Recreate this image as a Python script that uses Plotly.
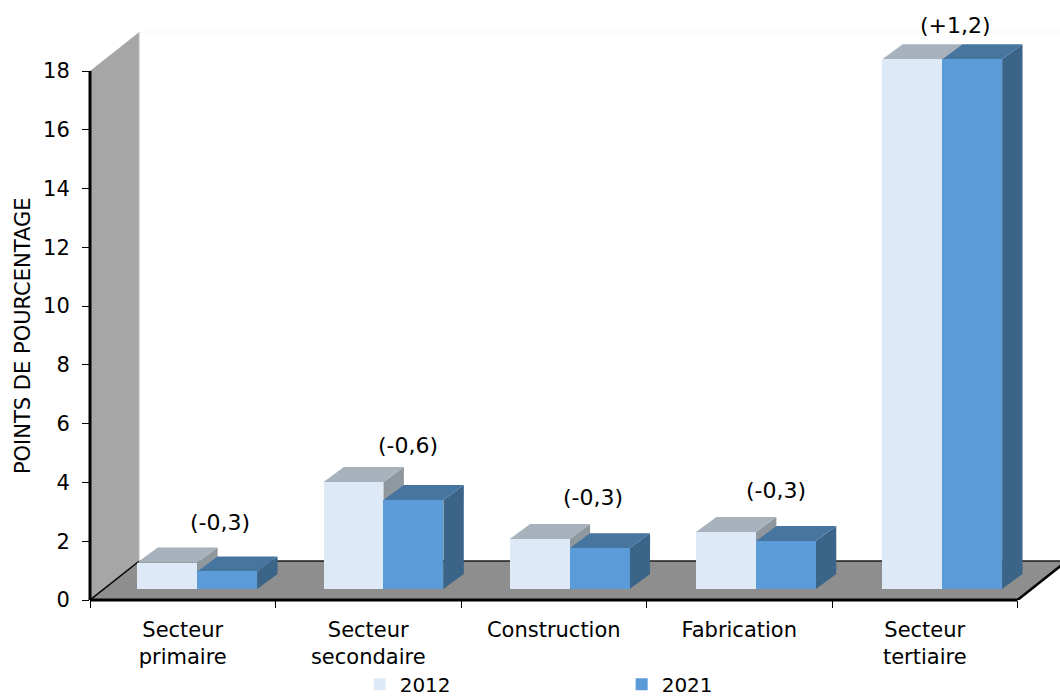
import plotly.graph_objects as go

categories = ["Secteur<br>primaire", "Secteur<br>secondaire", "Construction", "Fabrication", "Secteur<br>tertiaire"]
series_2012 = [0.90, 3.64, 1.70, 1.94, 18.03]
series_2021 = [0.60, 3.03, 1.39, 1.63, 18.03]
change_labels = ["(-0,3)", "(-0,6)", "(-0,3)", "(-0,3)", "(+1,2)"]
change_label_x = [0.701, 1.714, 2.712, 3.698, 4.668]
change_label_y = [2.65, 5.27, 3.50, 3.74, 19.56]
y_ticks = [0, 2, 4, 6, 8, 10, 12, 14, 16, 18]

FONT = "DejaVu Sans"
BAR_W = 0.323
BAR_DX, BAR_DY = 0.110, 0.51
WALL_DX, WALL_DY = 0.266, 1.327
BASE = 0.374
Y_MAX = 18
N = len(categories)
X_RANGE = [0, 5.229]
Y_RANGE = [0, 20.416]

centers = [0.578 + 1.004 * i for i in range(N)]
left_x = [c - BAR_W for c in centers]
right_x = [c + BAR_W for c in centers]


def poly(points, color):
    path = "M " + " L ".join(f"{x},{y}" for x, y in points) + " Z"
    return dict(type="path", path=path, xref="x", yref="y", fillcolor=color,
                line=dict(width=0), layer="below")


def seg(x0, y0, x1, y1, width, color="#000000"):
    return dict(type="line", x0=x0, y0=y0, x1=x1, y1=y1, xref="x", yref="y",
                line=dict(color=color, width=width), layer="below")


shapes = [
    seg(WALL_DX, Y_MAX + WALL_DY, X_RANGE[1], Y_MAX + WALL_DY, 1, "#F7F7F7"),
    poly([(0, 0), (WALL_DX, WALL_DY), (N + WALL_DX, WALL_DY), (N, 0)], "#8E8E8E"),
    poly([(0, 0), (WALL_DX, WALL_DY), (WALL_DX, Y_MAX + WALL_DY), (0, Y_MAX)], "#A6A6A6"),
    seg(WALL_DX, WALL_DY, N + WALL_DX, WALL_DY, 1.5, "#1A1A1A"),
    seg(WALL_DX, WALL_DY, WALL_DX, Y_MAX + WALL_DY, 1, "#D9D9D9"),
    seg(0, 0, WALL_DX, WALL_DY, 1.5),
    seg(N, 0, N + WALL_DX, WALL_DY, 2.5),
]


def faces(x0, x1, value, top_color, side_color):
    t = BASE + value
    return [
        poly([(x1, BASE), (x1 + BAR_DX, BASE + BAR_DY), (x1 + BAR_DX, t + BAR_DY), (x1, t)], side_color),
        poly([(x0, t), (x0 + BAR_DX, t + BAR_DY), (x1 + BAR_DX, t + BAR_DY), (x1, t)], top_color),
    ]


for i in range(N):
    shapes += faces(left_x[i], centers[i], series_2012[i], "#A7B2BC", "#8F989F")
for i in range(N):
    shapes += faces(centers[i], right_x[i], series_2021[i], "#46759F", "#3A6488")

# Axis lines stop at the last tick; paper-referenced lines are not clipped at the plot edge.
shapes += [
    dict(type="line", xref="paper", yref="paper", x0=0, x1=0, y0=0, y1=Y_MAX / Y_RANGE[1],
         line=dict(color="#000000", width=3), layer="above"),
    dict(type="line", xref="paper", yref="paper", x0=0, x1=N / X_RANGE[1], y0=0, y1=0,
         line=dict(color="#000000", width=3), layer="above"),
]

fig = go.Figure()
fig.add_trace(go.Bar(x=[c - BAR_W / 2 for c in centers], y=series_2012, base=BASE, width=BAR_W,
                     name="2012", marker=dict(color="#DEE9F7", line=dict(width=0)), cliponaxis=False))
fig.add_trace(go.Bar(x=[c + BAR_W / 2 for c in centers], y=series_2021, base=BASE, width=BAR_W,
                     name="2021", marker=dict(color="#5B9BD7", line=dict(width=0)), cliponaxis=False))

annotations = [
    dict(x=x, y=y, xref="x", yref="y", text=t, showarrow=False,
         font=dict(family=FONT, size=22, color="#000000"))
    for x, y, t in zip(change_label_x, change_label_y, change_labels)
]
annotations.append(dict(x=-0.069, xref="paper", xanchor="center", y=0.44, yref="paper", yanchor="middle",
                        text="POINTS DE POURCENTAGE", textangle=-90, showarrow=False,
                        font=dict(family=FONT, size=21, color="#000000")))

fig.update_layout(
    width=1060, height=696, autosize=False,
    margin=dict(l=90, r=0, t=0, b=96, autoexpand=False),
    paper_bgcolor="#FFFFFF", plot_bgcolor="#FFFFFF",
    barmode="overlay", bargap=0,
    shapes=shapes, annotations=annotations,
    font=dict(family=FONT, size=21, color="#000000"),
    showlegend=True,
    legend=dict(orientation="h", x=0.278, xanchor="left", y=-0.108, yanchor="top",
                entrywidth=217, entrywidthmode="pixels", font=dict(family=FONT, size=20),
                itemclick=False, itemdoubleclick=False, traceorder="normal",
                bgcolor="rgba(0,0,0,0)"),
    xaxis=dict(range=X_RANGE, showgrid=False, zeroline=False, showline=False,
               tickmode="array", tickvals=[i + 0.5 for i in range(N)], ticktext=categories,
               ticks="", ticklabelstandoff=15,
               minor=dict(tickmode="array", tickvals=list(range(N + 1)), ticks="outside",
                          ticklen=7, tickwidth=1, tickcolor="#000000", showgrid=False)),
    yaxis=dict(range=Y_RANGE, showgrid=False, zeroline=False, showline=False,
               tickmode="array", tickvals=y_ticks, ticks="outside", ticklen=7, tickwidth=1,
               tickcolor="#000000", ticklabelstandoff=8),
)

fig.write_html("out.html", config={"displayModeBar": False},
               post_script="document.body.style.margin='0';document.body.style.overflow='hidden';")
